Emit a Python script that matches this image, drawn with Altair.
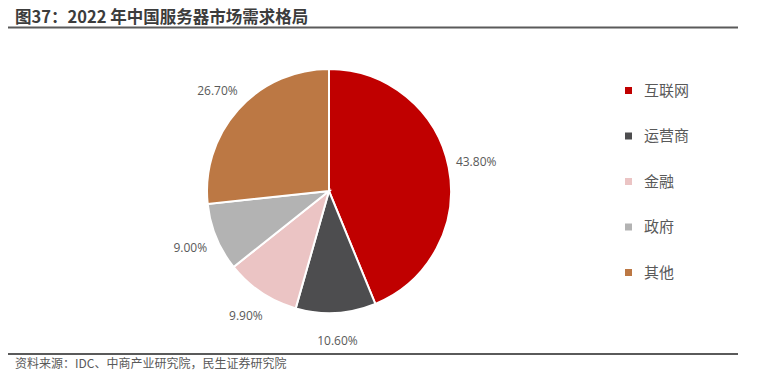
import altair as alt
import pandas as pd

categories = ["互联网", "运营商", "金融", "政府", "其他"]
shares = [43.80, 10.60, 9.90, 9.00, 26.70]
labels = ["43.80%", "10.60%", "9.90%", "9.00%", "26.70%"]
colors = ["#C00000", "#4D4D4F", "#EBC4C4", "#B3B3B3", "#BC7844"]

title_text = "图37：2022 年中国服务器市场需求格局"
source_text = "资料来源：IDC、中商产业研究院，民生证券研究院"

df = pd.DataFrame({"cat": categories, "share": shares, "label": labels,
                   "order": list(range(len(categories)))})

W, H = 748, 362
CX, CY, R = 321, 183, 122

base = alt.Chart(df).encode(
    theta=alt.Theta("share:Q", stack=True),
    order=alt.Order("order:Q"),
)

pie = base.mark_arc(outerRadius=R, stroke="white", strokeWidth=2).encode(
    x=alt.value(CX), y=alt.value(CY),
    color=alt.Color("cat:N", scale=alt.Scale(domain=categories, range=colors),
                    sort=categories,
                    legend=alt.Legend(orient="none", legendX=613, legendY=75,
                                      title=None, symbolType="square",
                                      symbolSize=49, symbolStrokeWidth=0,
                                      labelFont="Noto Sans CJK SC",
                                      labelFontSize=15, labelColor="#595959",
                                      labelFontWeight="normal",
                                      rowPadding=29.5, labelOffset=8)),
)

lab = base.mark_text(radius=150, font="Open Sans", fontSize=12,
                     color="#595959").encode(
    x=alt.value(CX), y=alt.value(CY), text="label:N")

tdf = pd.DataFrame({"t": [title_text]})
title = alt.Chart(tdf).mark_text(align="left", baseline="middle",
                                 font="Noto Sans CJK SC", fontSize=16.5,
                                 fontWeight="bold", color="#3C3C3C").encode(
    x=alt.value(7), y=alt.value(9.5), text="t:N")

sdf = pd.DataFrame({"t": [source_text]})
source = alt.Chart(sdf).mark_text(align="left", baseline="middle",
                                  font="Noto Sans CJK SC", fontSize=12,
                                  color="#595959").encode(
    x=alt.value(7), y=alt.value(355.5), text="t:N")

rule_top = alt.Chart(tdf).mark_rule(color="#5A5A5A", strokeWidth=2).encode(
    x=alt.value(-2), x2=alt.value(730), y=alt.value(19.5))
rule_bot = alt.Chart(tdf).mark_rule(color="#5A5A5A", strokeWidth=2).encode(
    x=alt.value(-2), x2=alt.value(730), y=alt.value(346))

chart = alt.layer(pie, lab, title, source, rule_top, rule_bot).properties(
    width=W, height=H,
    autosize=alt.AutoSizeParams(type="none"),
    padding=0,
).configure_view(stroke=None)

chart.save("out.html", embed_options={"renderer": "svg", "actions": False})
